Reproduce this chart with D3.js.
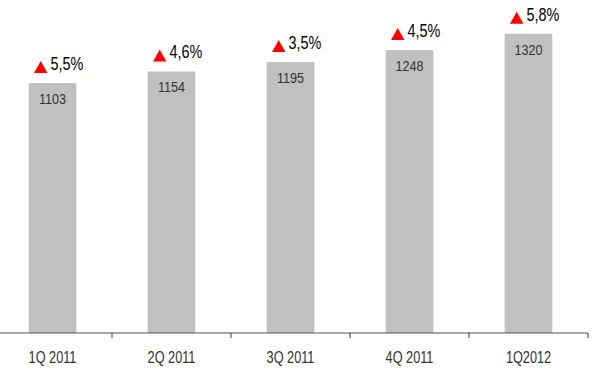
<!DOCTYPE html>
<html><head><meta charset="utf-8">
<script src="https://cdn.jsdelivr.net/npm/d3@7"></script>
<style>html,body{margin:0;padding:0;background:#fff;}svg{display:block;}</style>
</head><body>
<svg id="chart" width="600" height="374"></svg>
<script>
const categories = ["1Q 2011", "2Q 2011", "3Q 2011", "4Q 2011", "1Q2012"];
const values = [1103, 1154, 1195, 1248, 1320];
const growth = ["5,5%", "4,6%", "3,5%", "4,5%", "5,8%"];

const svg = d3.select("#chart");
const font = "'Liberation Sans', Arial, sans-serif";
const baseY = 333;

const x = d3.scaleBand().domain(categories).range([-7, 588]).paddingInner(0.6).paddingOuter(0.3);
const y = d3.scaleLinear().domain([0, 1469]).range([baseY, 0]);

// bars
svg.selectAll("rect.bar").data(values).enter().append("rect")
  .attr("class", "bar")
  .attr("x", (d, i) => x(categories[i]))
  .attr("width", x.bandwidth())
  .attr("y", d => y(d))
  .attr("height", d => baseY - y(d))
  .attr("fill", "#c0c0c0");

// axis
const xb = d3.scaleBand().domain(categories).range([-7, 588]);
const axis = svg.append("g").attr("transform", `translate(0,${baseY})`);
axis.append("line").attr("x1", 0).attr("x2", 588).attr("y1", 0).attr("y2", 0)
  .attr("stroke", "#555").attr("stroke-width", 1.2);
categories.forEach(c => {
  const tx = xb(c) + xb.bandwidth();
  axis.append("line").attr("x1", tx).attr("x2", tx).attr("y1", 0).attr("y2", 5)
    .attr("stroke", "#555").attr("stroke-width", 1.2);
});

function sText(g, px, py, txt, size, fill, anchor, sx) {
  g.append("text")
    .attr("transform", `translate(${px},${py}) scale(${sx},1)`)
    .attr("text-anchor", anchor)
    .attr("font-family", font)
    .attr("font-size", size)
    .attr("fill", fill)
    .text(txt);
}

// x labels
categories.forEach(c => {
  const cx = xb(c) + xb.bandwidth() / 2;
  sText(svg, cx, 363, c, 16.5, "#333", "middle", 0.77);
});

// value labels and growth labels
values.forEach((v, i) => {
  const cx = x(categories[i]) + x.bandwidth() / 2;
  const top = y(v);
  sText(svg, cx, top + 21, String(v), 15.4, "#333", "middle", 0.82);
  const tb = top - 10;
  svg.append("path")
    .attr("d", d3.line()([[cx - 18.5, tb], [cx - 5, tb], [cx - 11.75, tb - 12]]) + "Z")
    .attr("fill", "#ff0000");
  sText(svg, cx - 2, tb - 3, growth[i], 18, "#000", "start", 0.8);
});
</script>
</body></html>
